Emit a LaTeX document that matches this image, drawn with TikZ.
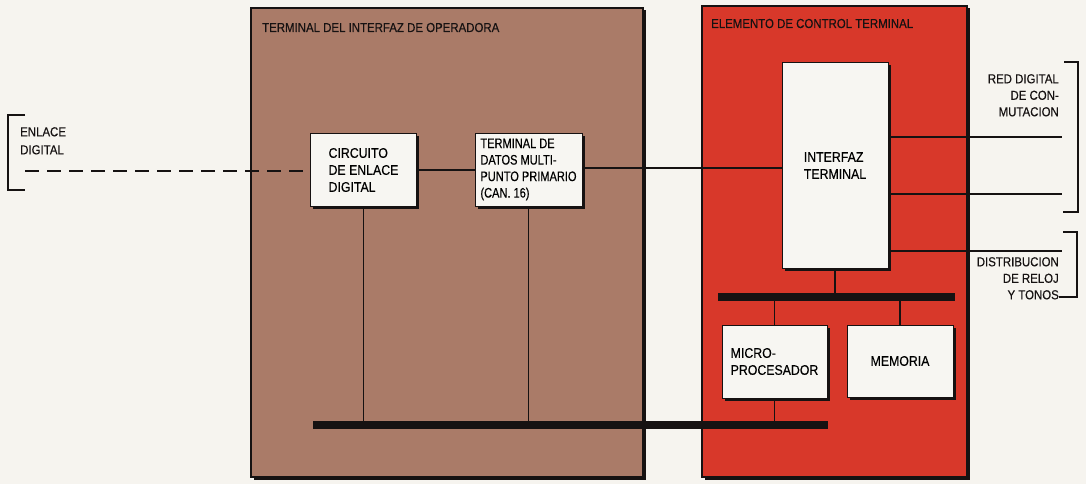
\documentclass[tikz,border=0pt]{standalone}
\usepackage{fontspec}
\setmainfont{Liberation Sans}[FakeStretch=0.88, FakeBold=0.35]
\newfontfamily\narrowfamily{Liberation Sans}[FakeStretch=0.8, FakeBold=0.35]
\usetikzlibrary{shadows}

\definecolor{paper}{RGB}{246,244,239}
\definecolor{panelbrown}{RGB}{170,123,104}
\definecolor{panelred}{RGB}{216,56,42}
\definecolor{boxfill}{RGB}{247,246,242}
\definecolor{ink}{RGB}{22,18,18}

\newcommand\boxtextfont{\fontsize{14}{17}\selectfont}
\newcommand\narrowboxfont{\narrowfamily\fontsize{13.8}{16.5}\selectfont}
\newcommand\labeltextfont{\fontsize{13}{16.5}\selectfont}

\tikzset{
  panel/.style={draw=ink, line width=1.2pt, rectangle, inner sep=0,
    drop shadow={shadow xshift=2.5pt, shadow yshift=-2.5pt, fill=ink, opacity=1}},
  unitbox/.style={draw=ink, line width=1pt, fill=boxfill, rectangle,
    drop shadow={shadow xshift=2.5pt, shadow yshift=-2.5pt, fill=ink, opacity=1},
    font=\boxtextfont, align=left, inner sep=0},
  wire/.style={draw=ink, line width=1.1pt},
  bus/.style={draw=ink, line width=8pt},
  bracket/.style={draw=ink, line width=1.2pt},
  paneltitle/.style={font=\labeltextfont, text=ink, inner sep=0, anchor=base west},
  sidelabel/.style={font=\labeltextfont, text=ink, inner sep=0, align=right, anchor=north east},
}

\begin{document}
\begin{tikzpicture}[x=1pt, y=-1pt]
  % page
  \fill[paper] (0,0) rectangle (1086,484);
  \useasboundingbox (0,0) rectangle (1086,484);

  % the two enclosures
  \node[panel, fill=panelbrown, minimum width=392, minimum height=469] (opterm) at (447,242.5) {};
  \node[panel, fill=panelred, minimum width=265, minimum height=471] (ctrl) at (834.5,241.5) {};

  \node[paneltitle] (optitle) at (262,32) {TERMINAL DEL INTERFAZ DE OPERADORA};
  \node[paneltitle] (ctrltitle) at (711,28) {ELEMENTO DE CONTROL TERMINAL};

  % bus coordinates
  \coordinate (busA-l) at (718,297);
  \coordinate (busA-r) at (955,297);
  \coordinate (busB-l) at (313,425);
  \coordinate (busB-r) at (828,425);

  % functional units
  \node[unitbox, minimum width=106, minimum height=73] (circ) at (363.5,170)
    {CIRCUITO\\DE ENLACE\\DIGITAL};
  \node[unitbox, font=\narrowboxfont, minimum width=107, minimum height=73] (tdm) at (528.5,169.5)
    {TERMINAL DE\\DATOS MULTI-\\PUNTO PRIMARIO\\(CAN. 16)};
  \node[unitbox, minimum width=106, minimum height=205] (iface) at (835,165.5)
    {INTERFAZ\\TERMINAL};
  \node[unitbox, minimum width=105, minimum height=73] (micro) at (774.5,361.5)
    {MICRO-\\PROCESADOR};
  \node[unitbox, minimum width=106, minimum height=72] (mem) at (900,361)
    {MEMORIA};

  % external link on the left
  \coordinate (linkend) at (25,171);
  \draw[bracket] (25,115) -- (8,115) -- (8,190) -- (25,190);
  \node[font=\fontsize{13}{18}\selectfont, text=ink, inner sep=0, align=left, anchor=north west] (linklabel) at (20,127)
    {ENLACE\\DIGITAL};

  % external outputs on the right
  \coordinate (out1) at (1062,137);
  \coordinate (out2) at (1062,194);
  \coordinate (out3) at (1062,251);
  \draw[bracket] (1064,62) -- (1078,62) -- (1078,212) -- (1063,212);
  \draw[bracket] (1063,232) -- (1077,232) -- (1077,297) -- (1059,297);
  \node[sidelabel] (netlabel) at (1059,74) {RED DIGITAL\\DE CON-\\MUTACION};
  \node[sidelabel] (clklabel) at (1059,257) {DISTRIBUCION\\DE RELOJ\\Y TONOS};

  % wires and buses
  \draw[wire, dash pattern=on 14pt off 8pt] (linkend) -- (linkend -| circ.west);
  \draw[wire] (circ.east |- 0,170) -- (tdm.west |- 0,170);
  \draw[wire] (tdm.east |- 0,168) -- (iface.west |- 0,168);
  \draw[wire] (iface.east |- out1) -- (out1);
  \draw[wire] (iface.east |- out2) -- (out2);
  \draw[wire] (iface.east |- out3) -- (out3);
  \draw[wire] (iface.south) -- (iface.south |- busA-l);
  \draw[wire] (micro.north |- busA-l) -- (micro.north);
  \draw[wire] (mem.north |- busA-l) -- (mem.north);
  \draw[wire] (micro.south) -- (micro.south |- busB-l);
  \draw[wire] (circ.south) -- (circ.south |- busB-l);
  \draw[wire] (tdm.south) -- (tdm.south |- busB-l);
  \draw[bus] (busA-l) -- (busA-r);
  \draw[bus] (busB-l) -- (busB-r);
\end{tikzpicture}
\end{document}
